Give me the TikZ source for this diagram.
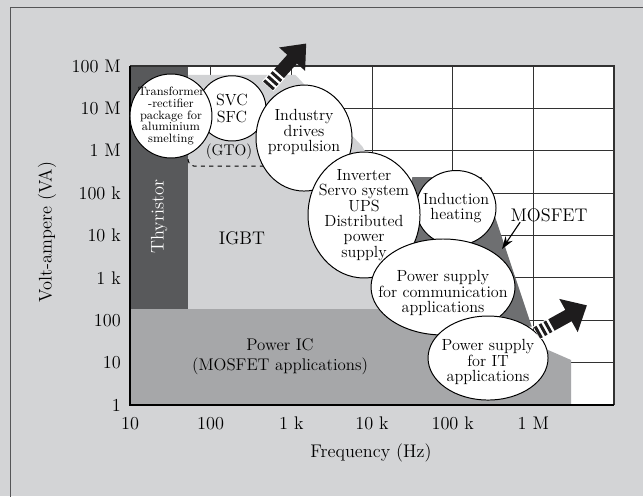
\documentclass[tikz,border=0pt]{standalone}
\usepackage{tikz}
\usetikzlibrary{shapes.geometric, arrows.meta}
\definecolor{paper}{RGB}{211,212,214}
\definecolor{framegray}{RGB}{85,85,87}
\definecolor{gridline}{RGB}{50,50,50}
\definecolor{thyristorgray}{RGB}{88,89,91}
\definecolor{mosfetgray}{RGB}{110,111,113}
\definecolor{icgray}{RGB}{166,167,169}
\definecolor{igbtgray}{RGB}{209,210,212}
\definecolor{arrowblack}{RGB}{30,28,29}
\tikzset{
  bubble/.style={ellipse, draw=black, line width=0.7pt, fill=white, inner sep=0pt},
  bubbletext/.style={align=center, inner sep=0pt, font=\fontsize{11.5}{10.9}\selectfont},
  ticklabel/.style={inner sep=0pt, font=\fontsize{13}{15}\selectfont},
  regionlabel/.style={inner sep=0pt, font=\fontsize{13}{15}\selectfont},
  pics/speedarrow/.style={code={
    \fill[white] (-0.5,-7.5) rectangle (17,7.5);
    \foreach \s in {0,5.5,11} \fill[arrowblack] (\s,-6.5) rectangle ++(3,13);
    \fill[arrowblack] (16.5,-6.5) -- (36,-6.5) -- (36,-#1) -- (57,0) -- (36,#1) -- (36,6.5) -- (16.5,6.5) -- cycle;
  }}
}

\begin{document}
\begin{tikzpicture}[x=2.0167cm, y=1.0594cm]
\useasboundingbox (-1.6115,-2.1475) rectangle (6.359,9.5575);
\fill[paper] (-1.6115,-2.1475) rectangle (6.359,9.5575);
\draw[framegray, line width=0.7pt] (-1.4876,-2.3) -- (-1.4876,9.369) -- (6.5,9.369);

% plot area with decade grid
\fill[white] (0,0) rectangle (6,8);
\foreach \i in {1,...,5} \draw[gridline, line width=0.6pt] (\i,0) -- (\i,8);
\foreach \j in {1,...,7} \draw[gridline, line width=0.6pt] (0,\j) -- (6,\j);

% device areas
\fill[igbtgray] (0.72,7.79) -- (2.05,7.79) -- (2.88,6.1) -- (3.2,5.0) -- (4.3,2.265) -- (0.72,2.265) -- cycle;
\fill[mosfetgray] (3.5,5.38) -- (4.36,5.38) -- (4.98,1.85) -- (4.3,1.85) -- (3.3,3.5) -- cycle;
\fill[icgray] (0,0) -- (5.467,0) -- (5.467,1.062) -- (5.0,1.45) -- (4.5,2.265) -- (0,2.265) -- cycle;
\fill[thyristorgray] (0,2.265) rectangle (0.72,8);
\draw[dashed, line width=0.7pt, rounded corners=4pt] (0.72,6.0) -- (0.72,5.64) -- (1.75,5.64);

% axes
\draw[gridline, line width=0.8pt] (0,8) -- (6,8) -- (6,0);
\draw[black, line width=1.6pt] (0,8) -- (0,0) -- (6,0);
\foreach \v/\t in {0/1, 1/10, 2/100, 3/1 k, 4/10 k, 5/100 k, 6/1 M, 7/10 M, 8/100 M}
  \node[ticklabel, anchor=east] (y\v) at (-0.11,\v) {\t};
\foreach \u/\t in {0/10, 1/100, 2/1 k, 3/10 k, 4/100 k, 5/1 M}
  \node[ticklabel] (x\u) at (\u,-0.43) {\t};
\node[ticklabel] (xtitle) at (2.987,-1.133) {Frequency (Hz)};
\node[ticklabel, rotate=90] (ytitle) at (-1.029,4.08) {Volt-ampere (VA)};

% area names
\node[regionlabel, rotate=90, text=white] (thyr) at (0.36,4.44) {Thyristor};
\node[regionlabel] (igbt) at (1.388,3.94) {IGBT};
\node[regionlabel, font=\fontsize{11}{13}\selectfont] (gto) at (1.227,5.97) {(GTO)};
\node[regionlabel, align=center, font=\fontsize{12}{14.2}\selectfont] (ic) at (1.86,1.13) {Power IC\\(MOSFET applications)};
\node[regionlabel] (mos) at (5.194,4.48) {MOSFET};
\coordinate (mostip) at (4.611,3.68);
\draw[-{Stealth[length=9pt,width=6pt]}, line width=0.8pt] ([xshift=0.25cm]mos.south west) -- (mostip);

% applications
\node[bubble, minimum width=1.7cm, minimum height=1.63cm,
  label={[bubbletext, font=\fontsize{11.5}{12.5}\selectfont]center:SVC\\SFC}] (svc) at (1.264,7.0) {};
\node[bubble, minimum width=2.05cm, minimum height=2.1cm,
  label={[bubbletext, font=\fontsize{8.6}{8.2}\selectfont]center:Transformer\\-rectifier\\package for\\aluminium\\smelting}] (trafo) at (0.508,6.82) {};
\node[bubble, minimum width=2.4cm, minimum height=2.65cm,
  label={[bubbletext, yshift=0.15cm]center:Industry\\drives\\propulsion}] (drives) at (2.157,6.30) {};
\node[bubble, minimum width=2.0cm, minimum height=1.875cm,
  label={[bubbletext]center:Induction\\heating}] (induct) at (4.041,4.649) {};
\node[bubble, minimum width=2.8cm, minimum height=3.15cm,
  label={[bubbletext]center:Inverter\\Servo system\\UPS\\Distributed\\power\\supply}] (inverter) at (2.9007,4.484) {};
\node[bubble, minimum width=3.6cm, minimum height=2.4cm,
  label={[bubbletext, yshift=-0.15cm]center:Power supply\\for communication\\applications}] (comm) at (3.880,2.785) {};
\node[bubble, minimum width=3.0cm, minimum height=2.1cm,
  label={[bubbletext, yshift=-0.1cm]center:Power supply\\for IT\\applications}] (it) at (4.438,1.109) {};

% trend arrows
\coordinate (upstart) at (1.711,7.53);
\coordinate (rightstart) at (5.045,1.70);
\pic[rotate=48, x=0.025cm, y=0.025cm] (uparrow) at (upstart) {speedarrow=17.5};
\pic[rotate=29, x=0.025cm, y=0.025cm] (rightarrow) at (rightstart) {speedarrow=19};
\end{tikzpicture}
\end{document}
